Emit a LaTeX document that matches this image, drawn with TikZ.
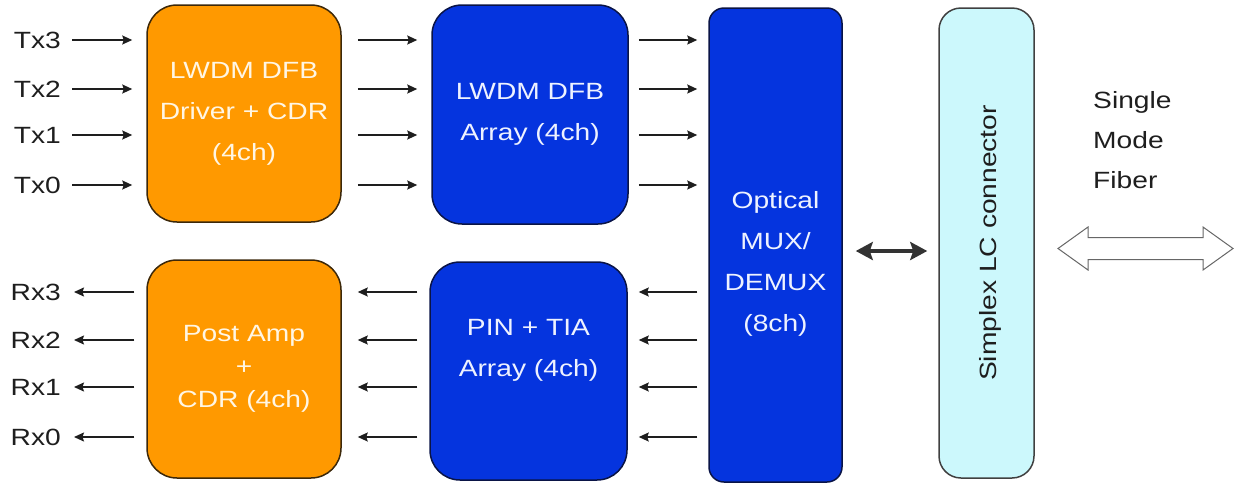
\documentclass[tikz,border=0pt]{standalone}
\usepackage{fontspec}
\setmainfont[FakeStretch=1.2]{Liberation Sans}
\usetikzlibrary{arrows.meta}
\definecolor{orng}{RGB}{255,153,0}
\definecolor{orngline}{RGB}{60,40,10}
\definecolor{blu}{RGB}{5,52,222}
\definecolor{bluline}{RGB}{10,20,70}
\definecolor{lcyan}{RGB}{204,248,252}
\definecolor{ink}{RGB}{30,30,30}
\definecolor{otext}{RGB}{255,246,228}
\definecolor{btext}{RGB}{238,242,255}
\tikzset{
  blk/.style={draw, line width=1.5pt, rounded corners=30pt, inner sep=0pt, align=center},
  oblk/.style={blk, fill=orng, draw=orngline, text=otext},
  bblk/.style={blk, fill=blu, draw=bluline, text=btext},
  lbl/.style={anchor=east, text=ink, inner sep=0pt},
  sig/.style={draw=ink, line width=1.5pt, -{Stealth[length=10pt,width=9pt,inset=1.5pt]}},
  bigarr/.style={draw=black!80, line width=3.5pt, {Stealth[length=17pt,width=18pt,inset=3pt]}-{Stealth[length=17pt,width=18pt,inset=3pt]}},
  hollow/.style={draw=black!60, line width=1pt, fill=white, line join=miter},
}
\begin{document}
\begin{tikzpicture}[x=1pt,y=-1pt,font=\fontsize{23.5}{41}\selectfont]
\useasboundingbox (0,0) rectangle (1234,483);
% boxes
\node[oblk, minimum width=194pt, minimum height=217pt] (o1) at (244,113.5) {LWDM DFB\\Driver + CDR\\(4ch)};
\node[oblk, minimum width=194pt, minimum height=218pt] (o2) at (244,369) {Post Amp\\[-8pt]+\\[-8pt]CDR (4ch)};
\node[bblk, minimum width=196pt, minimum height=219pt] (b1) at (530,114.5) {LWDM DFB\\Array (4ch)};
\node[bblk, minimum width=197pt, minimum height=218pt] (b2) at (528.5,371) {PIN + TIA\\Array (4ch)\\[6pt]};
\node[bblk, rounded corners=15pt, minimum width=133pt, minimum height=474pt,
  label={[text=btext, align=center, yshift=-19pt]center:Optical\\MUX/\\DEMUX\\(8ch)}] (mux) at (775.5,245) {};
\node[blk, fill=lcyan, draw=black!75, rounded corners=22pt, minimum width=95pt, minimum height=470pt,
  label={[text=ink, rotate=90, yshift=-4pt]center:Simplex LC connector}] (lc) at (986.5,243) {};
% labels
\node[lbl] (tx3) at (61,40) {Tx3};
\node[lbl] (tx2) at (61,89) {Tx2};
\node[lbl] (tx1) at (61,135) {Tx1};
\node[lbl] (tx0) at (61,185) {Tx0};
\node[lbl] (rx3) at (61,292) {Rx3};
\node[lbl] (rx2) at (61,340) {Rx2};
\node[lbl] (rx1) at (61,387) {Rx1};
\node[lbl] (rx0) at (61,437) {Rx0};
\node[anchor=west, align=left, text=ink, inner sep=0pt, font=\fontsize{23.5}{40}\selectfont] (smf) at (1093,140) {Single\\Mode\\Fiber};
% signal arrows
\foreach \n in {3,2,1,0} {
  \draw[sig, shorten <=11pt, shorten >=14pt] (tx\n.east) -- (tx\n.east -| o1.west);
  \draw[sig, shorten <=16pt, shorten >=14pt] (tx\n.east -| o1.east) -- (tx\n.east -| b1.west);
  \draw[sig, shorten <=10pt, shorten >=11pt] (tx\n.east -| b1.east) -- (tx\n.east -| mux.west);
  \draw[sig, shorten <=12pt, shorten >=13pt] (rx\n.east -| o2.west) -- (rx\n.east);
  \draw[sig, shorten <=12pt, shorten >=16pt] (rx\n.east -| b2.west) -- (rx\n.east -| o2.east);
  \draw[sig, shorten <=11pt, shorten >=11pt] (rx\n.east -| mux.west) -- (rx\n.east -| b2.east);
}
% mux <-> connector
\draw[bigarr, shorten <=13pt, shorten >=11pt] ([yshift=-6pt]mux.east) -- ([yshift=-6pt]mux.east -| lc.west);
% fiber hollow double arrow
\draw[hollow] (1058,248.5) -- (1088,227) -- (1088,237.5) -- (1203,237.5) -- (1203,227)
  -- (1233,248.5) -- (1203,270) -- (1203,259.5) -- (1088,259.5) -- (1088,270) -- cycle;
\end{tikzpicture}
\end{document}
